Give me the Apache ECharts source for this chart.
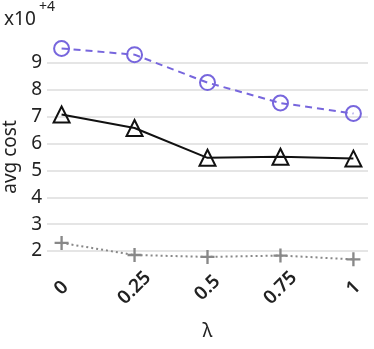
<!DOCTYPE html>
<html>
<head>
<meta charset="utf-8">
<script src="https://cdn.jsdelivr.net/npm/echarts@6/dist/echarts.min.js"></script>
<style>
  html, body { margin: 0; padding: 0; background: #fff; }
  #chart { width: 374px; height: 349px; }
</style>
</head>
<body>
<div id="chart"></div>
<script>
// lambda values on x
var lambdas = [0, 0.25, 0.5, 0.75, 1];
var lambdaLabels = ['0', '0.25', '0.5', '0.75', '1'];
// avg cost, in units of 10^4
var purpleCost = [9.54, 9.31, 8.27, 7.51, 7.12];
var blackCost = [7.08, 6.58, 5.47, 5.51, 5.44];
var grayCost = [2.30, 1.85, 1.78, 1.83, 1.69];

var font = 'Noto Sans';
var plusPath = 'path://M5,0H7V5H12V7H7V12H5V7H0V5H5Z';

function pairs(ys) {
  return lambdas.map(function (x, i) { return [x, ys[i]]; });
}

var chart = echarts.init(document.getElementById('chart'));
var option = {
  backgroundColor: '#ffffff',
  animation: false,
  grid: { left: 47, right: 6, top: 63, bottom: 98, outerBoundsMode: 'none', containLabel: false },
  graphic: [
    {
      type: 'text', left: 4, top: 10,
      style: { text: 'x10', font: '19px "Noto Sans"', fill: '#222' }
    },
    {
      type: 'text', left: 39, top: 0,
      style: { text: '+4', font: '14px "Noto Sans"', fill: '#222' }
    }
  ],
  xAxis: {
    type: 'value',
    min: -0.05,
    max: 1.05,
    name: 'λ',
    nameLocation: 'middle',
    nameGap: 61,
    nameTextStyle: { fontFamily: font, fontSize: 19, color: '#222' },
    offset: 10,
    axisLine: { show: false },
    axisTick: { show: false },
    splitLine: { show: false },
    axisLabel: {
      customValues: lambdas,
      rotate: 45,
      align: 'center',
      verticalAlign: 'middle',
      margin: 27,
      fontFamily: font,
      fontSize: 19,
      fontWeight: 600,
      color: '#222',
      formatter: function (v) {
        var i = lambdas.indexOf(v);
        return i >= 0 ? lambdaLabels[i] : '';
      }
    }
  },
  yAxis: {
    type: 'value',
    min: 2,
    max: 9,
    interval: 1,
    name: 'avg cost',
    nameLocation: 'middle',
    nameGap: 19,
    nameTextStyle: { fontFamily: font, fontSize: 19, color: '#222' },
    axisLine: { show: false },
    axisTick: { show: false },
    axisLabel: { fontFamily: font, fontSize: 19, color: '#222', margin: 5 },
    splitLine: { lineStyle: { color: '#dddddd', width: 1.5 } }
  },
  series: [
    {
      type: 'line',
      data: pairs(purpleCost),
      clip: false,
      symbol: 'circle',
      symbolSize: 15,
      color: '#7766dd',
      lineStyle: { color: '#7766dd', width: 2, type: [7, 5] },
      itemStyle: { color: 'rgba(0,0,0,0)', borderColor: '#7766dd', borderWidth: 2 }
    },
    {
      type: 'line',
      data: pairs(blackCost),
      clip: false,
      symbol: 'triangle',
      symbolSize: 16,
      color: '#111',
      lineStyle: { color: '#111', width: 2 },
      itemStyle: { color: 'rgba(0,0,0,0)', borderColor: '#111', borderWidth: 2 }
    },
    {
      type: 'line',
      data: pairs(grayCost),
      clip: false,
      symbol: plusPath,
      symbolSize: 14,
      color: '#888',
      lineStyle: { color: '#888', width: 2, type: [2, 3] },
      itemStyle: { color: '#888' }
    }
  ]
};
chart.setOption(option);
</script>
</body>
</html>
